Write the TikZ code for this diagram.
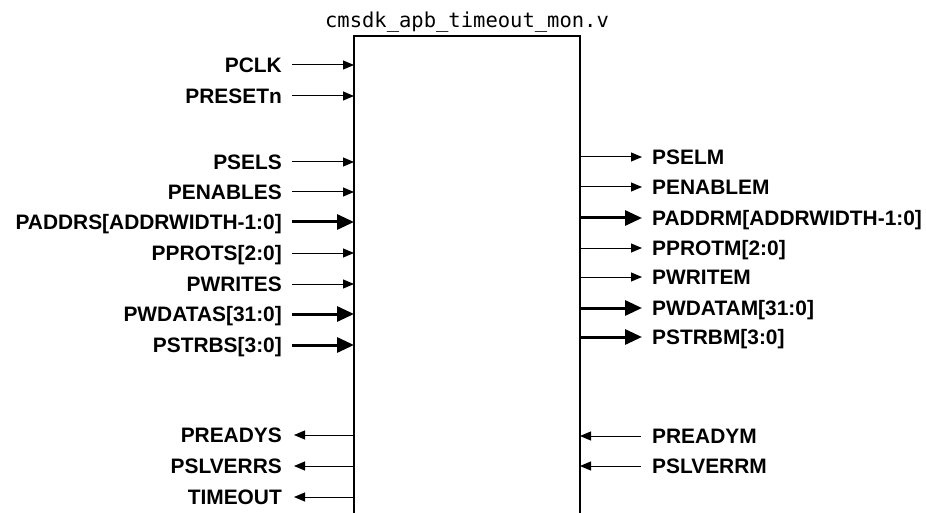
\documentclass[tikz,border=0pt]{standalone}
\usepackage{fontspec}
\setmainfont{Liberation Sans}
\newfontfamily\titlefont{DejaVu Sans Mono}
\usetikzlibrary{arrows.meta}
\begin{document}
\begin{tikzpicture}[x=1pt,y=-1pt]
\tikzset{
  lbl/.style={font=\bfseries\fontsize{20.9}{24}\selectfont, inner sep=0pt},
  sig/.style={line width=1pt, -{Triangle[length=11pt,width=9pt]}},
  bus/.style={line width=3pt, -{Triangle[length=17pt,width=15pt]}},
  boxline/.style={line width=1.2pt},
}
\useasboundingbox (0,0) rectangle (926,513);
% module box (open at the bottom)
\coordinate (bl) at (354,514);
\coordinate (tl) at (354,36);
\coordinate (tr) at (580,36);
\coordinate (br) at (580,514);
\draw[boxline] (bl) -- (tl) -- (tr) -- (br);
\node[font=\titlefont\fontsize{20.5}{24}\selectfont, inner sep=0pt, anchor=base] (title) at (467,28) {cmsdk\_apb\_timeout\_mon.v};
% left inputs
\foreach \n/\y/\t/\s in {a/65/PCLK/sig, b/96/PRESETn/sig, c/162/PSELS/sig, d/192/PENABLES/sig,
  e/222/{PADDRS[ADDRWIDTH-1:0]}/bus, f/253/{PPROTS[2:0]}/sig, g/284/PWRITES/sig,
  h/314/{PWDATAS[31:0]}/bus, i/345/{PSTRBS[3:0]}/bus}{
  \node[lbl, anchor=base east] (L\n) at (282,\y+7.5) {\t};
  \coordinate (Ls\n) at (292,\y);
  \coordinate (Le\n) at (354,\y);
  \draw[\s] (Ls\n) -- (Le\n);
}
% left outputs
\foreach \n/\y/\t in {a/435/PREADYS, b/466/PSLVERRS, c/497/TIMEOUT}{
  \node[lbl, anchor=base east] (LO\n) at (282,\y+7.5) {\t};
  \coordinate (LOs\n) at (354,\y);
  \coordinate (LOe\n) at (294,\y);
  \draw[sig] (LOs\n) -- (LOe\n);
}
% right outputs
\foreach \n/\y/\t/\s in {a/157/PSELM/sig, b/187/PENABLEM/sig, c/218/{PADDRM[ADDRWIDTH-1:0]}/bus,
  d/248/{PPROTM[2:0]}/sig, e/277/PWRITEM/sig, f/308/{PWDATAM[31:0]}/bus, g/337/{PSTRBM[3:0]}/bus}{
  \node[lbl, anchor=base west] (R\n) at (652,\y+7.5) {\t};
  \coordinate (Rs\n) at (580,\y);
  \coordinate (Re\n) at (642,\y);
  \draw[\s] (Rs\n) -- (Re\n);
}
% right inputs
\foreach \n/\y/\t in {a/436/PREADYM, b/466/PSLVERRM}{
  \node[lbl, anchor=base west] (RI\n) at (652,\y+7.5) {\t};
  \coordinate (RIs\n) at (641,\y);
  \coordinate (RIe\n) at (580,\y);
  \draw[sig] (RIs\n) -- (RIe\n);
}
\end{tikzpicture}
\end{document}
